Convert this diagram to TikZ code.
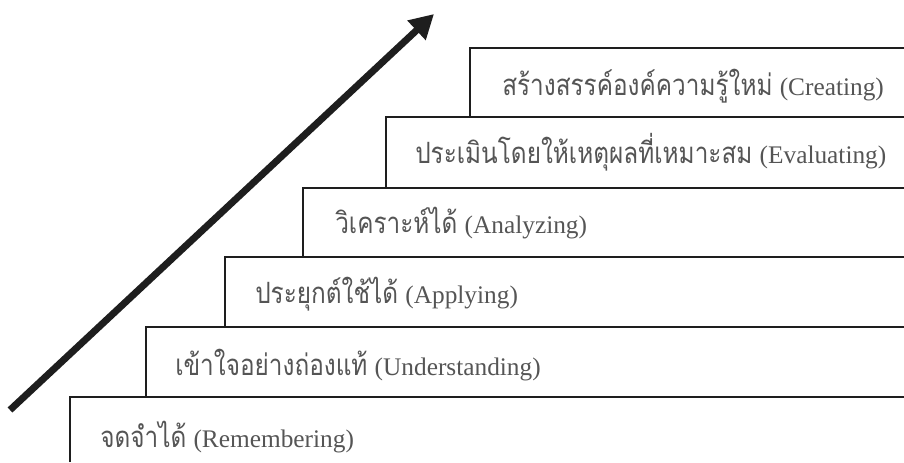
\documentclass[tikz,border=0pt]{standalone}
\usepackage{fontspec}
\setmainfont{Liberation Serif}
\newfontfamily\thaifont[Script=Thai, FakeStretch=0.83]{Loma}
\usetikzlibrary{arrows.meta}
\definecolor{linec}{RGB}{30,30,30}
\definecolor{textc}{RGB}{85,85,85}
\tikzset{
  stepline/.style={draw=linec, line width=1.5pt},
  thlbl/.style={anchor=base west, inner sep=0pt, text=textc, font=\thaifont\fontsize{22}{26}\selectfont},
  enlbl/.style={anchor=base west, inner sep=0pt, text=textc, font=\fontsize{19}{22}\selectfont},
  bigarrow/.style={draw=linec, line width=5.2pt, -{Triangle[length=18pt,width=19pt]}},
}
\begin{document}
\begin{tikzpicture}[x=0.75pt, y=-0.75pt]
\useasboundingbox (0,0) rectangle (904,462);
% step corners
\coordinate (b1) at (70,462);
\coordinate (c1) at (70,397);
\coordinate (b2) at (146,397);
\coordinate (c2) at (146,327);
\coordinate (b3) at (225,327);
\coordinate (c3) at (225,257);
\coordinate (b4) at (303,257);
\coordinate (c4) at (303,188);
\coordinate (b5) at (386,188);
\coordinate (c5) at (386,117);
\coordinate (b6) at (470,117);
\coordinate (c6) at (470,48);
\coordinate (r1) at (904,397);
\coordinate (r2) at (904,327);
\coordinate (r3) at (904,257);
\coordinate (r4) at (904,188);
\coordinate (r5) at (904,117);
\coordinate (r6) at (904,48);
\draw[stepline] (b1) -- (c1) -- (r1);
\draw[stepline] (b2) -- (c2) -- (r2);
\draw[stepline] (b3) -- (c3) -- (r3);
\draw[stepline] (b4) -- (c4) -- (r4);
\draw[stepline] (b5) -- (c5) -- (r5);
\draw[stepline] (b6) -- (c6) -- (r6);
% labels
\node[thlbl] (t1) at (100,447) {จดจำได้};
\node[enlbl] (e1) at ([xshift=5pt]t1.base east) {(Remembering)};
\node[thlbl] (t2) at (175,375) {เข้าใจอย่างถ่องแท้};
\node[enlbl] (e2) at ([xshift=5pt]t2.base east) {(Understanding)};
\node[thlbl] (t3) at (255,303) {ประยุกต์ใช้ได้};
\node[enlbl] (e3) at ([xshift=5pt]t3.base east) {(Applying)};
\node[thlbl] (t4) at (335,233) {วิเคราะห์ได้};
\node[enlbl] (e4) at ([xshift=5pt]t4.base east) {(Analyzing)};
\node[thlbl] (t5) at (415,163) {ประเมินโดยให้เหตุผลที่เหมาะสม};
\node[enlbl] (e5) at ([xshift=5pt]t5.base east) {(Evaluating)};
\node[thlbl] (t6) at (502,95) {สร้างสรรค์องค์ความรู้ใหม่};
\node[enlbl] (e6) at ([xshift=5pt]t6.base east) {(Creating)};
% arrow
\coordinate (as) at (10,410);
\coordinate (ae) at (434,14);
\draw[bigarrow] (as) -- (ae);
\end{tikzpicture}
\end{document}
